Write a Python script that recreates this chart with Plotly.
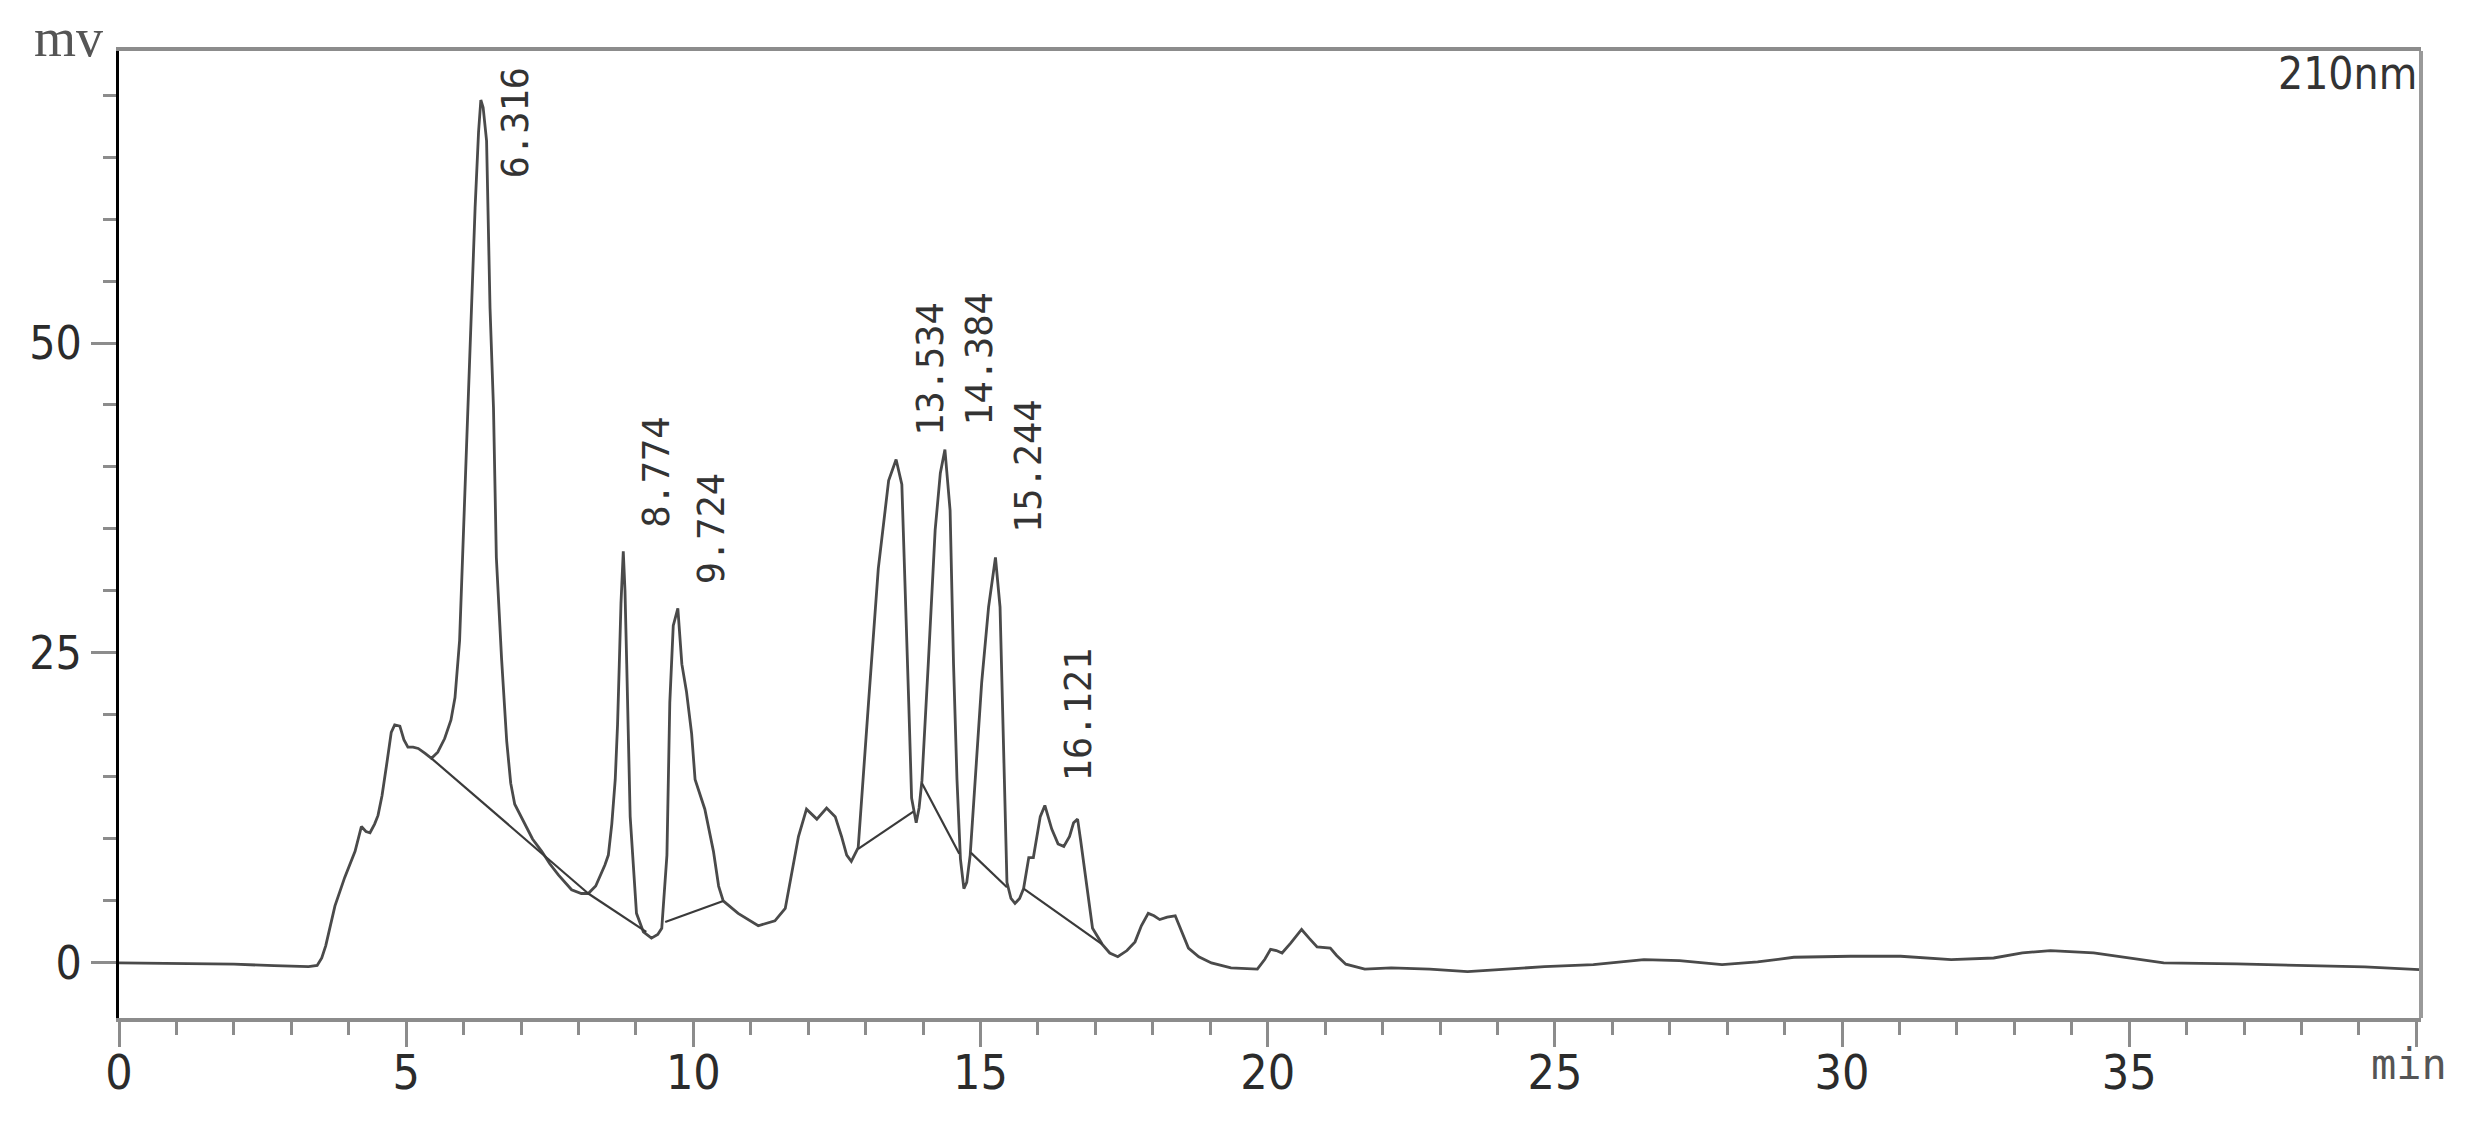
import plotly.graph_objects as go

# ---------------- data ----------------
time_min = [0.0, 1.0, 1.5, 2.0, 2.7, 3.3, 3.45, 3.53, 3.6, 3.68, 3.76, 3.93, 4.11, 4.22, 4.3, 4.37,
            4.45, 4.51, 4.58, 4.66, 4.74, 4.80, 4.89, 4.96, 5.03, 5.12, 5.21, 5.33, 5.44, 5.55, 5.67,
            5.78, 5.85, 5.93, 5.98, 6.03, 6.08, 6.14, 6.20, 6.26, 6.30, 6.34, 6.40, 6.46, 6.52, 6.57,
            6.62, 6.66, 6.75, 6.82, 6.89, 7.07, 7.2, 7.36, 7.5, 7.65, 7.88, 8.05, 8.17, 8.3, 8.46,
            8.52, 8.58, 8.64, 8.68, 8.71, 8.74, 8.78, 8.81, 8.84, 8.90, 9.01, 9.13, 9.27, 9.38, 9.45,
            9.54, 9.59, 9.65, 9.73, 9.80, 9.88, 9.97, 10.03, 10.2, 10.35, 10.44, 10.52, 10.78, 11.13,
            11.42, 11.6, 11.71, 11.83, 11.97, 12.15, 12.32, 12.47, 12.58, 12.67, 12.75, 12.87, 13.05,
            13.22, 13.40, 13.53, 13.63, 13.69, 13.75, 13.80, 13.88, 13.93, 13.98, 14.09, 14.21, 14.30,
            14.38, 14.47, 14.53, 14.59, 14.65, 14.71, 14.76, 14.82, 14.91, 15.02, 15.14, 15.26, 15.34,
            15.40, 15.46, 15.53, 15.60, 15.68, 15.75, 15.84, 15.92, 16.04, 16.12, 16.24, 16.35, 16.45,
            16.55, 16.62, 16.69, 16.74, 16.82, 16.95, 17.12, 17.25, 17.39, 17.55, 17.69, 17.8, 17.92,
            18.02, 18.12, 18.25, 18.39, 18.5, 18.62, 18.8, 19.02, 19.36, 19.82, 19.95, 20.05, 20.15,
            20.25, 20.4, 20.59, 20.72, 20.86, 21.09, 21.2, 21.36, 21.69, 22.15, 22.82, 23.48, 24.15,
            24.82, 25.67, 26.55, 27.17, 27.91, 28.53, 29.16, 30.15, 31.02, 31.9, 32.64, 33.14, 33.63,
            34.38, 35.0, 35.6, 36.87, 38.1, 39.1, 40.05]
signal_mv = [0.0, -0.02, -0.06, -0.1, -0.22, -0.3, -0.2, 0.4, 1.4, 3.0, 4.6, 6.9, 9.0, 11.0, 10.6, 10.5,
             11.2, 11.9, 13.5, 16.0, 18.6, 19.2, 19.1, 18.0, 17.4, 17.4, 17.3, 16.9, 16.5, 17.0, 18.1,
             19.6, 21.4, 26.0, 32.7, 38.5, 44.8, 52.8, 60.9, 67.0, 69.6, 69.0, 66.3, 52.8, 44.8, 32.7,
             28.0, 24.6, 17.9, 14.5, 12.8, 11.2, 10.0, 9.0, 8.0, 7.1, 5.9, 5.6, 5.6, 6.2, 7.9,
             8.7, 11.2, 14.8, 19.2, 24.0, 29.0, 33.2, 30.0, 24.1, 11.8, 4.0, 2.5, 2.0, 2.3, 2.8,
             8.7, 21.0, 27.2, 28.6, 24.1, 21.9, 18.5, 14.8, 12.4, 9.0, 6.2, 5.0, 4.0, 3.0,
             3.4, 4.4, 7.1, 10.2, 12.4, 11.6, 12.5, 11.8, 10.2, 8.7, 8.2, 9.3, 21.0,
             31.8, 38.9, 40.6, 38.6, 30.3, 21.0, 13.3, 11.3, 12.5, 14.7, 24.1, 34.9, 39.5,
             41.4, 36.5, 24.1, 14.8, 8.4, 6.0, 6.5, 8.7, 14.8, 22.6, 28.7, 32.7, 28.7,
             17.9, 6.5, 5.2, 4.8, 5.2, 6.0, 8.5, 8.5, 11.8, 12.7, 10.8, 9.6, 9.4,
             10.2, 11.3, 11.6, 10.0, 7.1, 2.8, 1.5, 0.8, 0.5, 1.0, 1.7, 3.0, 4.0,
             3.8, 3.5, 3.7, 3.8, 2.6, 1.2, 0.5, 0.0, -0.4, -0.5, 0.3, 1.1, 1.0,
             0.8, 1.6, 2.7, 2.0, 1.3, 1.2, 0.6, -0.1, -0.5, -0.4, -0.5, -0.7, -0.5,
             -0.3, -0.13, 0.27, 0.19, -0.13, 0.08, 0.46, 0.54, 0.54, 0.27, 0.40, 0.81, 1.0,
             0.81, 0.40, 0.0, -0.08, -0.19, -0.32, -0.54]

# integration baselines (start/end of each drawn segment)
base_t0 = [5.44, 8.17, 9.51, 12.87, 13.98, 14.83, 15.75]
base_y0 = [16.5, 5.6, 3.3, 9.2, 14.5, 8.9, 6.0]
base_t1 = [8.17, 9.18, 10.52, 13.83, 14.63, 15.46, 17.12]
base_y1 = [5.6, 2.5, 5.0, 12.2, 8.8, 6.1, 1.5]

# labelled peaks
peak_times = [6.316, 8.774, 9.724, 13.534, 14.384, 15.244, 16.121]
peak_heights = [69.6, 33.2, 28.6, 40.6, 41.4, 32.7, 12.7]

x_tickvals = [0, 5, 10, 15, 20, 25, 30, 35, 40]
x_ticktext = ["0", "5", "10", "15", "20", "25", "30", "35", ""]
y_tickvals = [0, 25, 50]
y_ticktext = ["0", "25", "50"]

# ---------------- layout geometry ----------------
W, H = 2468, 1130
ML, MR, MT, MB = 111, 55, 43, 120
X_RANGE = [0, 40.08]
Y_RANGE = [-4.44, 73.55]
plot_w = W - ML - MR
plot_h = H - MT - MB
px_per_mv = plot_h / (Y_RANGE[1] - Y_RANGE[0])


def paper_x(px):
    return (px - ML) / plot_w


def paper_y(py):
    return (H - MB - py) / plot_h


TICK_FONT = "DejaVu Sans Condensed, Liberation Sans Narrow, Liberation Sans, Arial, sans-serif"
LABEL_FONT = "DejaVu Sans Mono, Liberation Mono, monospace"
AXIS_GREY = "#8c8c8c"

fig = go.Figure()

fig.add_trace(go.Scatter(x=time_min, y=signal_mv, mode="lines",
                         line=dict(color="#4a4a4a", width=2.8),
                         hoverinfo="skip", showlegend=False))

bx, by = [], []
for a, b, c, d in zip(base_t0, base_y0, base_t1, base_y1):
    bx += [a, c, None]
    by += [b, d, None]
fig.add_trace(go.Scatter(x=bx, y=by, mode="lines",
                         line=dict(color="#3a3a3a", width=2.2),
                         hoverinfo="skip", showlegend=False))

annotations = []
label_len_mv = 108 / px_per_mv
gap_mv = 24 / px_per_mv
for t, h in zip(peak_times, peak_heights):
    txt = f"{t:.3f}"
    if h + gap_mv + label_len_mv > Y_RANGE[1] - 20 / px_per_mv:
        annotations.append(dict(x=t, y=1, xref="x", yref="paper", text=txt, textangle=-90,
                                showarrow=False, xanchor="center", yanchor="top",
                                xshift=34, yshift=-14,
                                font=dict(family=LABEL_FONT, size=37, color="#333333")))
    else:
        annotations.append(dict(x=t, y=h, xref="x", yref="y", text=txt, textangle=-90,
                                showarrow=False, xanchor="center", yanchor="bottom",
                                xshift=34, yshift=22,
                                font=dict(family=LABEL_FONT, size=37, color="#333333")))

annotations.append(dict(x=paper_x(24), y=paper_y(30), xref="paper", yref="paper", text="mv",
                        showarrow=False, xanchor="left", yanchor="middle",
                        font=dict(family="Liberation Serif, Times New Roman, serif", size=54,
                                  color="#555555")))
annotations.append(dict(x=paper_x(2411), y=paper_y(65), xref="paper", yref="paper", text="210nm",
                        showarrow=False, xanchor="right", yanchor="middle",
                        font=dict(family=TICK_FONT, size=44, color="#333333")))
annotations.append(dict(x=40, y=paper_y(1056), xref="x", yref="paper", text="min",
                        showarrow=False, xanchor="center", yanchor="middle", xshift=-7,
                        font=dict(family=LABEL_FONT, size=42, color="#555555")))

fig.update_layout(
    width=W, height=H, autosize=False,
    margin=dict(l=ML, r=MR, t=MT, b=MB, pad=0),
    paper_bgcolor="white", plot_bgcolor="white",
    showlegend=False,
    annotations=annotations,
    shapes=[dict(type="line", xref="paper", yref="paper", x0=1, x1=1, y0=0, y1=1,
                 line=dict(color="#9a9a9a", width=4))],
    xaxis=dict(range=X_RANGE, showgrid=False, zeroline=False,
               showline=True, linecolor=AXIS_GREY, linewidth=4, mirror=True,
               tickmode="array", tickvals=x_tickvals, ticktext=x_ticktext,
               ticks="outside", ticklen=25, tickwidth=3, tickcolor=AXIS_GREY,
               ticklabelstandoff=-16,
               tickfont=dict(family=TICK_FONT, size=48, color="#2b2b2b"),
               minor=dict(dtick=1, tick0=0, ticks="outside", ticklen=13, tickwidth=3,
                          tickcolor=AXIS_GREY, showgrid=False)),
    yaxis=dict(range=Y_RANGE, showgrid=False, zeroline=False,
               showline=True, linecolor="black", linewidth=3, mirror=False,
               tickmode="array", tickvals=y_tickvals, ticktext=y_ticktext,
               ticks="outside", ticklen=25, tickwidth=3, tickcolor=AXIS_GREY,
               tickfont=dict(family=TICK_FONT, size=46, color="#2b2b2b"),
               minor=dict(dtick=5, tick0=0, ticks="outside", ticklen=13, tickwidth=3,
                          tickcolor=AXIS_GREY, showgrid=False)),
)

fig.write_html("out.html")
